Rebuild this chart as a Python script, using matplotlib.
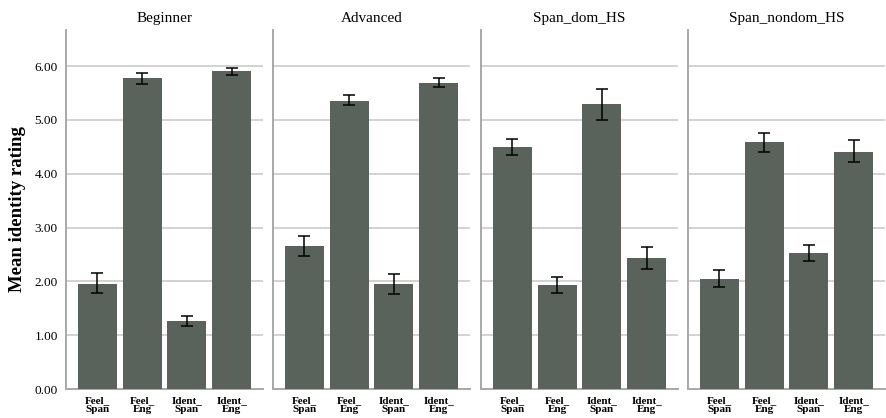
import numpy as np
import matplotlib.pyplot as plt

plt.rcParams['font.family'] = ['Liberation Serif']

groups = ["Beginner", "Advanced", "Span_dom_HS", "Span_nondom_HS"]
measures = ["Feel_\nSpan", "Feel_\nEng", "Ident_\nSpan", "Ident_\nEng"]

means = [
    [1.96, 5.77, 1.26, 5.90],
    [2.66, 5.36, 1.95, 5.69],
    [4.49, 1.93, 5.29, 2.43],
    [2.05, 4.59, 2.53, 4.41],
]
err_lo = [
    [1.78, 5.67, 1.17, 5.84],
    [2.47, 5.27, 1.77, 5.61],
    [4.35, 1.78, 5.00, 2.23],
    [1.89, 4.41, 2.38, 4.21],
]
err_hi = [
    [2.15, 5.87, 1.36, 5.96],
    [2.85, 5.46, 2.13, 5.77],
    [4.64, 2.09, 5.58, 2.63],
    [2.21, 4.76, 2.68, 4.62],
]

bar_color = "#59635c"
grid_color = "#d2d2d2"
spine_color = "#a8a8a8"

fig = plt.figure(figsize=(8.86, 4.18), dpi=100)
lefts = [66, 273, 481, 688]
width_px = 197
bottom = 1 - 389 / 418
top = 1 - 30 / 418

for i, name in enumerate(groups):
    ax = fig.add_axes([lefts[i] / 886, bottom, width_px / 886, top - bottom])
    x = np.arange(len(measures))
    m = np.array(means[i])
    lo = m - np.array(err_lo[i])
    hi = np.array(err_hi[i]) - m
    ax.bar(x, m, width=0.87, color=bar_color, zorder=3)
    ax.errorbar(x, m, yerr=[lo, hi], fmt="none", ecolor="black",
                elinewidth=1.1, capsize=4, capthick=1.1, zorder=4)
    ax.set_xlim(-0.7, 3.7)
    ax.set_ylim(0, 6.67)
    ax.set_yticks([0, 1, 2, 3, 4, 5, 6])
    ax.yaxis.grid(True, color=grid_color, linewidth=1.4, zorder=0)
    ax.set_xticks(x)
    ax.set_xticklabels(measures, fontsize=8, fontweight="bold",
                       linespacing=0.95)
    ax.tick_params(axis="x", length=0, pad=5)
    ax.tick_params(axis="y", length=0, pad=6)
    ax.set_title(name, fontsize=11, pad=6)
    for s in ["top", "right"]:
        ax.spines[s].set_visible(False)
    for s in ["left", "bottom"]:
        ax.spines[s].set_color(spine_color)
        ax.spines[s].set_linewidth(1.4)
    if i == 0:
        ax.set_yticklabels(["%.2f" % v for v in range(7)], fontsize=9.5)
        ax.set_ylabel("Mean identity rating", fontsize=13.5, fontweight="bold",
                      labelpad=6)
    else:
        ax.set_yticklabels([])

fig.savefig("out.png", dpi=100)
